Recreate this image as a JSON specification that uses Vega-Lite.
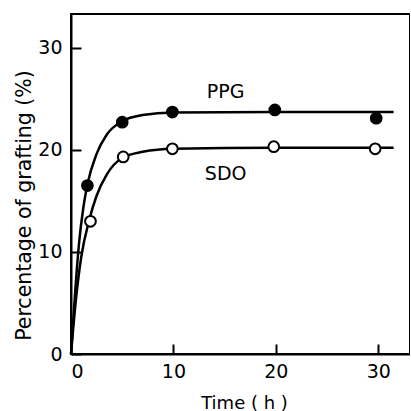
{
  "$schema": "https://vega.github.io/schema/vega-lite/v6.json",
  "width": 339,
  "height": 340,
  "autosize": {"type": "none"},
  "padding": {"left": 71, "top": 14, "right": 0, "bottom": 57},
  "background": "white",
  "config": {
    "view": {"stroke": "black", "strokeWidth": 2},
    "font": "DejaVu Sans",
    "axis": {
      "domainColor": "black", "domainWidth": 2, "tickColor": "black", "tickWidth": 2,
      "tickSize": -10, "grid": false, "labelColor": "black", "labelFontSize": 19,
      "labelFont": "DejaVu Sans", "titleFont": "DejaVu Sans", "titleFontSize": 18,
      "titleFontWeight": "normal", "titleColor": "black"
    }
  },
  "datasets": {
    "points": [
      {"series": "PPG", "time": 1.6, "value": 16.5},
      {"series": "PPG", "time": 5.0, "value": 22.7},
      {"series": "PPG", "time": 9.9, "value": 23.7},
      {"series": "PPG", "time": 19.9, "value": 23.9},
      {"series": "PPG", "time": 29.8, "value": 23.1},
      {"series": "SDO", "time": 1.9, "value": 13.0},
      {"series": "SDO", "time": 5.1, "value": 19.3},
      {"series": "SDO", "time": 9.9, "value": 20.1},
      {"series": "SDO", "time": 19.8, "value": 20.3},
      {"series": "SDO", "time": 29.7, "value": 20.1}
    ],
    "curves": [
      {"series": "PPG", "time": 0, "value": 0},
      {"series": "PPG", "time": 0.4, "value": 6},
      {"series": "PPG", "time": 0.8, "value": 11},
      {"series": "PPG", "time": 1.2, "value": 14.3},
      {"series": "PPG", "time": 1.6, "value": 16.6},
      {"series": "PPG", "time": 2.5, "value": 19.6},
      {"series": "PPG", "time": 3.5, "value": 21.5},
      {"series": "PPG", "time": 5, "value": 22.8},
      {"series": "PPG", "time": 7, "value": 23.4},
      {"series": "PPG", "time": 10, "value": 23.65},
      {"series": "PPG", "time": 20, "value": 23.7},
      {"series": "PPG", "time": 31.5, "value": 23.7},
      {"series": "SDO", "time": 0, "value": 0},
      {"series": "SDO", "time": 0.5, "value": 5.5},
      {"series": "SDO", "time": 1.0, "value": 9.5},
      {"series": "SDO", "time": 1.8, "value": 13.2},
      {"series": "SDO", "time": 2.5, "value": 15.5},
      {"series": "SDO", "time": 3.5, "value": 17.6},
      {"series": "SDO", "time": 5, "value": 19.2},
      {"series": "SDO", "time": 7, "value": 19.8},
      {"series": "SDO", "time": 10, "value": 20.1},
      {"series": "SDO", "time": 20, "value": 20.2},
      {"series": "SDO", "time": 31.5, "value": 20.2}
    ],
    "labels": [
      {"label": "PPG", "time": 15.1, "value": 25.7},
      {"label": "SDO", "time": 15.1, "value": 17.6}
    ]
  },
  "layer": [
    {
      "data": {"name": "curves"},
      "mark": {"type": "line", "interpolate": "monotone", "color": "black", "strokeWidth": 2.5},
      "encoding": {
        "x": {"field": "time", "type": "quantitative", "scale": {"domain": [0, 33.1], "nice": false},
          "axis": {"values": [0, 10, 20, 30], "title": "Time ( h )", "labelPadding": 18,
            "titleX": 173, "titleY": 54, "titleBaseline": "alphabetic", "titleAlign": "center"}},
        "y": {"field": "value", "type": "quantitative", "scale": {"domain": [0, 33.3], "nice": false},
          "axis": {"values": [0, 10, 20, 30], "title": "Percentage of grafting (%)", "labelPadding": 19,
            "titleFontSize": 20.5,
            "titleX": -47, "titleY": 191, "titleAngle": 270, "titleBaseline": "middle", "titleAlign": "center"}},
        "detail": {"field": "series"}
      }
    },
    {
      "data": {"name": "points"},
      "mark": {"type": "point", "shape": "circle", "size": 115, "strokeWidth": 2, "stroke": "black", "opacity": 1},
      "encoding": {
        "x": {"field": "time", "type": "quantitative"},
        "y": {"field": "value", "type": "quantitative"},
        "fill": {"field": "series", "type": "nominal", "scale": {"domain": ["PPG", "SDO"], "range": ["black", "white"]}, "legend": null}
      }
    },
    {
      "data": {"name": "labels"},
      "mark": {"type": "text", "fontSize": 19, "color": "black", "font": "DejaVu Sans"},
      "encoding": {
        "x": {"field": "time", "type": "quantitative"},
        "y": {"field": "value", "type": "quantitative"},
        "text": {"field": "label"}
      }
    }
  ]
}
